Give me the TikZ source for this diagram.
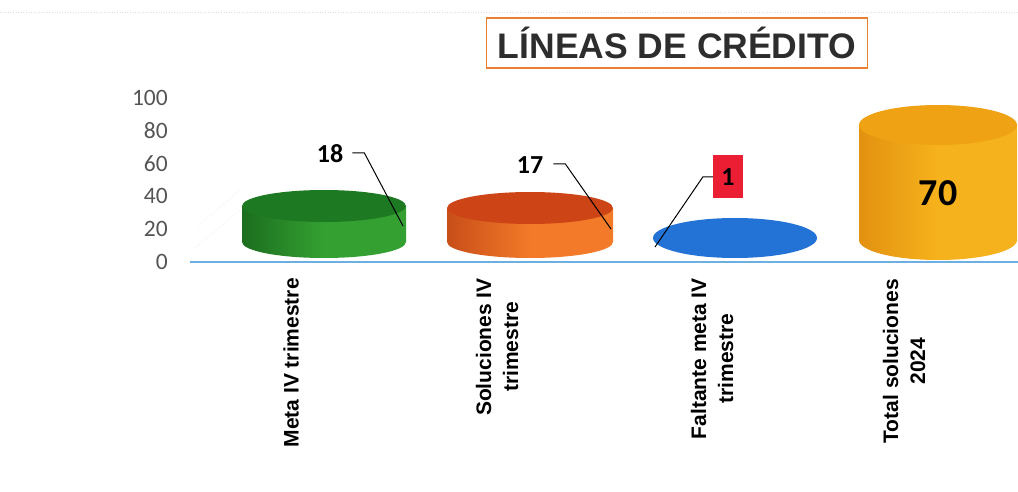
\documentclass[tikz,border=0pt]{standalone}
\usepackage{fontspec}
\setmainfont{Liberation Sans}
\newfontfamily\carlito{Carlito}
\definecolor{greenTop}{RGB}{30,122,34}
\definecolor{greenSide}{RGB}{52,160,50}
\definecolor{greenDark}{RGB}{28,110,30}
\definecolor{orangeTop}{RGB}{205,68,22}
\definecolor{orangeSide}{RGB}{242,122,40}
\definecolor{orangeDark}{RGB}{200,78,25}
\definecolor{blueDisk}{RGB}{35,115,215}
\definecolor{goldTop}{RGB}{238,162,20}
\definecolor{goldSide}{RGB}{246,178,28}
\definecolor{goldDark}{RGB}{226,145,16}
\definecolor{redBox}{RGB}{236,30,52}
\definecolor{titleFrame}{RGB}{232,128,52}
\definecolor{axisBlue}{RGB}{110,175,225}
\definecolor{tickGray}{RGB}{85,85,85}
\definecolor{titleGray}{RGB}{45,45,45}
\newcommand\mycyl[8]{% cx, rx, ytop, ybottom, ry, top, side, dark
  \shade[left color=#8, right color=#7, middle color=#7]
    (#1-#2,#3) -- (#1-#2,#4)
    arc[start angle=180, end angle=0, x radius=#2, y radius=#5]
    -- (#1+#2,#3) -- cycle;
  \fill[#6] (#1,#3) ellipse[x radius=#2, y radius=#5];
}
\tikzset{
  ticklab/.style={anchor=east, inner sep=0pt, text=tickGray, font=\carlito\fontsize{23.5}{26}\selectfont},
  vallab/.style={inner sep=0pt, text=black, font=\carlito\bfseries\fontsize{26}{28}\selectfont},
  catlab/.style={rotate=90, anchor=east, inner sep=0pt, align=center, text=black, font=\bfseries\fontsize{21}{27}\selectfont},
  leader/.style={draw=black, line width=1pt},
  faint/.style={draw=black!12, line width=0.6pt, dotted},
}
\begin{document}
\begin{tikzpicture}[x=1pt, y=-1pt]
\useasboundingbox (0,0) rectangle (1018,492);
\fill[white] (0,0) rectangle (1018,492);
% faint scan lines
\draw[faint] (0,12) -- (1018,12);
\draw[faint] (195,248) -- (240,210);
\draw[faint] (198,226) -- (240,190);
% title
\node[draw=titleFrame, line width=1.8pt, fill=white, minimum width=381pt, minimum height=50pt,
      inner sep=0pt, text=titleGray, font=\bfseries\fontsize{35.5}{40}\selectfont]
      (title) at (677,43) {LÍNEAS DE CRÉDITO};
% axis tick labels
\node[ticklab] (t100) at (168,98) {100};
\node[ticklab] (t80) at (168,131) {80};
\node[ticklab] (t60) at (168,164) {60};
\node[ticklab] (t40) at (168,196) {40};
\node[ticklab] (t20) at (168,229) {20};
\node[ticklab] (t0) at (168,262) {0};
% base axis
\coordinate (axL) at (190,262);
\coordinate (axR) at (1018,262);
\draw[axisBlue, line width=1.4pt] (axL) -- (axR);
% bars
\mycyl{324}{82}{206}{242}{16}{greenTop}{greenSide}{greenDark}
\mycyl{530}{83}{208}{242}{16}{orangeTop}{orangeSide}{orangeDark}
\fill[blueDisk] (735,238) ellipse[x radius=82, y radius=20];
\mycyl{938}{79}{125}{240}{20}{goldTop}{goldSide}{goldDark}
% value labels
\node[vallab] (v18) at (330,154) {18};
\coordinate (p18) at (403,226);
\draw[leader] (v18.east) ++(9,-1) -- ++(12,0) -- (p18);
\node[vallab] (v17) at (530,165) {17};
\coordinate (p17) at (611,229);
\draw[leader] (v17.east) ++(10,-1) -- ++(12,0) -- (p17);
\node[fill=redBox, minimum width=30pt, minimum height=43pt, inner sep=0pt,
      font=\carlito\bfseries\fontsize{26}{28}\selectfont] (v1) at (728,177) {1};
\coordinate (p1) at (655,247);
\draw[leader] (v1.west) -- ++(-10,0) -- (p1);
\node[inner sep=0pt, font=\carlito\bfseries\fontsize{38}{40}\selectfont] (v70) at (938,193) {70};
% category labels
\node[catlab] (c1) at (291,278) {Meta IV trimestre};
\node[catlab] (c2) at (497,278) {Soluciones IV\\trimestre};
\node[catlab] (c3) at (712,278) {Faltante meta IV\\trimestre};
\node[catlab] (c4) at (904,279) {Total soluciones\\2024};
\end{tikzpicture}
\end{document}
